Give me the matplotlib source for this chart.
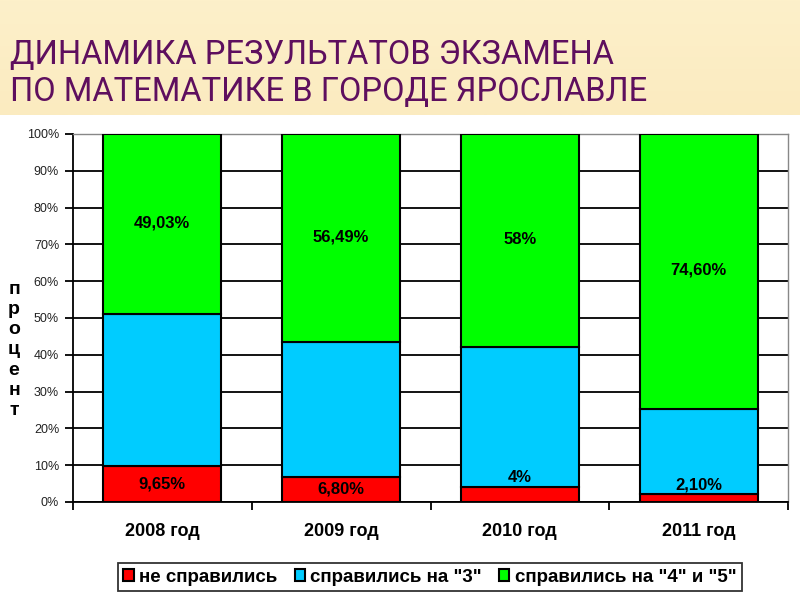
import numpy as np
import matplotlib
matplotlib.use("Agg")
import matplotlib.pyplot as plt

# === Data ===
years = ["2008 год", "2009 год", "2010 год", "2011 год"]
failed = [9.65, 6.80, 4.0, 2.10]           # не справились
grade3 = [41.32, 36.71, 38.0, 23.30]       # справились на "3"
grade45 = [49.03, 56.49, 58.0, 74.60]      # справились на "4" и "5"
failed_labels = ["9,65%", "6,80%", "4%", "2,10%"]
grade45_labels = ["49,03%", "56,49%", "58%", "74,60%"]

series_names = ["не справились", 'справились на "3"', 'справились на "4" и "5"']
colors = ["#FF0000", "#00CCFF", "#00FF00"]

plt.rcParams["font.family"] = ["Liberation Sans", "DejaVu Sans"]

fig = plt.figure(figsize=(8, 6), dpi=100)
fig.patch.set_facecolor("white")

# === Slide header band ===
hdr = fig.add_axes([0, 1 - 115 / 600, 1, 115 / 600])
grad = np.linspace(0, 1, 100).reshape(-1, 1)
hdr.imshow(grad, aspect="auto", extent=[0, 1, 0, 1],
           cmap=matplotlib.colors.LinearSegmentedColormap.from_list(
               "hdr", ["#FDF0CA", "#FBEBC0"]))
hdr.set_xlim(0, 1)
hdr.set_ylim(0, 1)
hdr.axis("off")

fig.text(0.012, 1 - 55 / 600, "ДИНАМИКА РЕЗУЛЬТАТОВ ЭКЗАМЕНА",
         family="Roboto", fontsize=23.5, color="#5E0F5E", va="center")
fig.text(0.012, 1 - 92 / 600, "ПО МАТЕМАТИКЕ В ГОРОДЕ ЯРОСЛАВЛЕ",
         family="Roboto", fontsize=23.5, color="#5E0F5E", va="center")

# === Chart ===
ax = fig.add_axes([73 / 800, 1 - 502 / 600, 715 / 800, 368 / 600])
x = np.arange(len(years))
w = 0.66

ax.set_axisbelow(True)
ax.yaxis.grid(True, color="black", linewidth=1.3)

bottom2 = np.array(failed)
bottom3 = bottom2 + np.array(grade3)
ax.bar(x, failed, w, color=colors[0], edgecolor="black", linewidth=1.5,
       label=series_names[0], zorder=3)
ax.bar(x, grade3, w, bottom=bottom2, color=colors[1], edgecolor="black",
       linewidth=1.5, label=series_names[1], zorder=3)
ax.bar(x, grade45, w, bottom=bottom3, color=colors[2], edgecolor="black",
       linewidth=1.5, label=series_names[2], zorder=3)

for i in range(len(years)):
    top = bottom3[i] + grade45[i]
    ax.text(x[i], (bottom3[i] + top) / 2 + 0.3, grade45_labels[i],
            ha="center", va="center", fontsize=12, fontweight="bold", zorder=5)
    if failed[i] > 5:
        ypos = failed[i] / 2
    else:
        ypos = failed[i] + 2.6
    ax.text(x[i], ypos, failed_labels[i], ha="center", va="center",
            fontsize=12, fontweight="bold", zorder=5)

ax.set_xlim(-0.5, 3.5)
ax.set_ylim(0, 100)
ax.set_yticks(np.arange(0, 101, 10))
ax.set_yticklabels([f"{v}%" for v in range(0, 101, 10)], fontsize=9, color="#222222")
ax.set_xticks(x)
ax.set_xticklabels(years, fontsize=13, fontweight="bold")
ax.set_xticks(np.arange(-0.5, 4, 1), minor=True)
ax.tick_params(axis="x", which="major", length=0, pad=15)
ax.tick_params(axis="x", which="minor", length=6, width=1.3, direction="out")
ax.tick_params(axis="y", length=6, width=1.3, pad=4)

for s in ["top", "right"]:
    ax.spines[s].set_color("#888888")
    ax.spines[s].set_linewidth(1)
for s in ["left", "bottom"]:
    ax.spines[s].set_color("black")
    ax.spines[s].set_linewidth(1.3)

fig.text(14 / 800, 1 - 350 / 600, "\n".join("процент"), ha="center", va="center",
         fontsize=14, fontweight="bold", linespacing=1.25)

leg = fig.legend(loc="center", bbox_to_anchor=(430 / 800, 1 - 577 / 600), ncol=3,
                 fontsize=13.5, frameon=True, fancybox=False, edgecolor="black",
                 handlelength=0.55, handleheight=0.55, handletextpad=0.3,
                 columnspacing=0.9, borderpad=0.3)
for t in leg.get_texts():
    t.set_fontweight("bold")
leg.get_frame().set_linewidth(1.3)

fig.savefig("out.png", dpi=100)
